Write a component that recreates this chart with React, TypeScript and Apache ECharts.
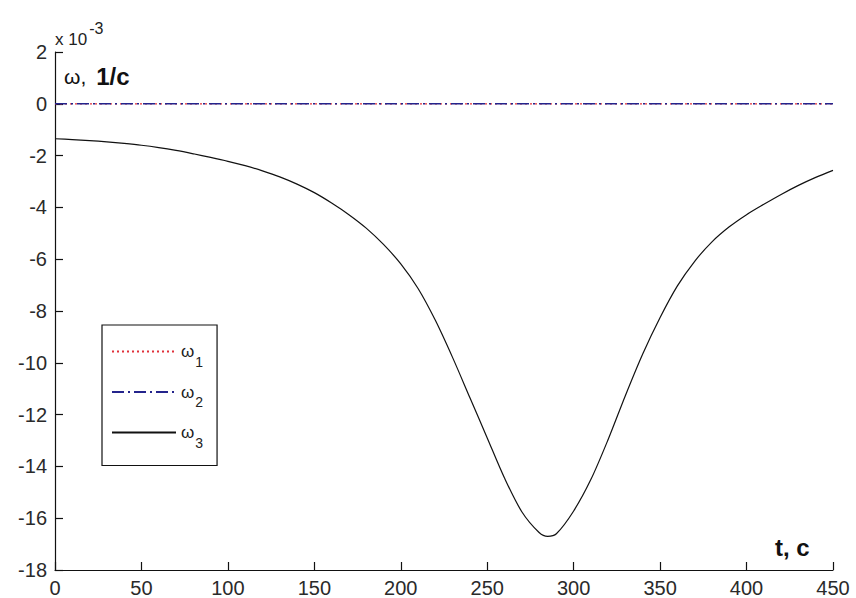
import { useEffect, useRef } from "react";
import * as echarts from "echarts";

// Time, s
const timeSec = [
  0, 10, 20, 30, 40, 50, 60, 70, 80, 90, 100, 110, 120, 130, 140, 150, 160, 170, 180, 190,
  200, 210, 220, 230, 240, 250, 260, 270, 280, 285, 290, 300, 310, 320, 330, 340, 350, 360,
  370, 380, 390, 400, 410, 420, 430, 440, 450,
];

// Angular velocity ω3, in units of 10^-3 1/s
const omega3 = [
  -1.35, -1.38, -1.42, -1.47, -1.53, -1.6, -1.69, -1.8, -1.93, -2.07, -2.22, -2.39, -2.59, -2.82,
  -3.1, -3.43, -3.83, -4.28, -4.8, -5.43, -6.18, -7.13, -8.36, -9.8, -11.35, -12.9, -14.45,
  -15.75, -16.55, -16.7, -16.6, -15.72, -14.5, -12.95, -11.25, -9.65, -8.25, -7.03, -6.08,
  -5.33, -4.75, -4.28, -3.88, -3.5, -3.15, -2.84, -2.57,
];

// ω1 and ω2 stay at zero over the whole interval
const flatTime = [0, 450];
const omega1 = [0, 0];
const omega2 = [0, 0];

const xTicks = { min: 0, max: 450, step: 50 };
const yTicks = { min: -18, max: 2, step: 2 };

const pairs = (xs: number[], ys: number[]) => xs.map((x, i) => [x, ys[i]]);

const FONT = "Liberation Sans, Arial, sans-serif";

export default function App() {
  const ref = useRef<HTMLDivElement>(null);

  useEffect(() => {
    if (!ref.current) return;
    const chart = echarts.init(ref.current, undefined, { renderer: "svg" });

    const legendRich = {
      w: { fontSize: 17, fontFamily: FONT, color: "#222" },
      s: { fontSize: 14, fontFamily: FONT, color: "#222", padding: [20, 0, 0, 1] },
    };

    chart.setOption({
      animation: false,
      backgroundColor: "#ffffff",
      grid: { left: 55, right: 23, top: 52, bottom: 26 },
      xAxis: {
        type: "value",
        min: xTicks.min,
        max: xTicks.max,
        interval: xTicks.step,
        splitLine: { show: false },
        axisLine: { onZero: false, lineStyle: { color: "#111", width: 1.2 } },
        axisTick: { inside: true, length: 8, lineStyle: { color: "#111", width: 1.2 } },
        axisLabel: { color: "#2a2a2a", fontSize: 20, fontFamily: FONT, margin: 8 },
      },
      yAxis: {
        type: "value",
        min: yTicks.min,
        max: yTicks.max,
        interval: yTicks.step,
        splitLine: { show: false },
        axisLine: { show: true, onZero: false, lineStyle: { color: "#111", width: 1.2 } },
        axisTick: { show: true, inside: true, length: 8, lineStyle: { color: "#111", width: 1.2 } },
        axisLabel: { color: "#2a2a2a", fontSize: 20, fontFamily: FONT, margin: 8 },
      },
      legend: {
        orient: "vertical",
        left: 102,
        top: 325,
        backgroundColor: "#fff",
        borderColor: "#111",
        borderWidth: 1.2,
        borderRadius: 0,
        padding: [18, 14, 16, 9],
        itemWidth: 64,
        itemHeight: 14,
        itemGap: 15,
        // line samples only, no marker on them
        itemStyle: { opacity: 0 },
        data: ["ω1", "ω2", "ω3"],
        formatter: (name: string) => `{w|ω}{s|${name.slice(1)}}`,
        textStyle: { rich: legendRich },
      },
      graphic: [
        {
          type: "text",
          left: 55,
          top: 20,
          style: {
            text: "{a|x 10}{b|-3}",
            rich: {
              a: { fontSize: 17, fontFamily: FONT, fill: "#222", padding: [13, 0, 0, 0] },
              b: { fontSize: 16, fontFamily: FONT, fill: "#222", padding: [0, 0, 9, 2] },
            },
          },
        },
        {
          type: "text",
          left: 64,
          top: 64,
          style: {
            text: "{w|ω,}{u|1/c}",
            rich: {
              w: { fontSize: 21, fontFamily: FONT, fill: "#111" },
              u: { fontSize: 24, fontFamily: FONT, fontWeight: "bold", fill: "#111", padding: [0, 0, 0, 10] },
            },
          },
        },
        {
          type: "text",
          left: 775,
          top: 535,
          style: {
            text: "t, c",
            fontSize: 24,
            fontFamily: FONT,
            fontWeight: "bold",
            fill: "#111",
          },
        },
      ],
      series: [
        {
          name: "ω1",
          type: "line",
          data: pairs(flatTime, omega1),
          showSymbol: false,
          symbol: "none",
          lineStyle: { color: "#e0303a", width: 1.2, type: [2, 3] },
          itemStyle: { color: "#e0303a" },
        },
        {
          name: "ω2",
          type: "line",
          data: pairs(flatTime, omega2),
          showSymbol: false,
          symbol: "none",
          lineStyle: { color: "#24248c", width: 1.4, type: [12, 4, 2, 4] },
          itemStyle: { color: "#24248c" },
        },
        {
          name: "ω3",
          type: "line",
          data: pairs(timeSec, omega3),
          showSymbol: false,
          symbol: "none",
          smooth: 0.3,
          lineStyle: { color: "#111", width: 1.2, type: "solid" },
          itemStyle: { color: "#111" },
        },
      ],
    });

    return () => chart.dispose();
  }, []);

  return (
    <div
      ref={ref}
      style={{ position: "fixed", left: 0, top: 0, width: 856, height: 598, background: "#fff" }}
    />
  );
}
